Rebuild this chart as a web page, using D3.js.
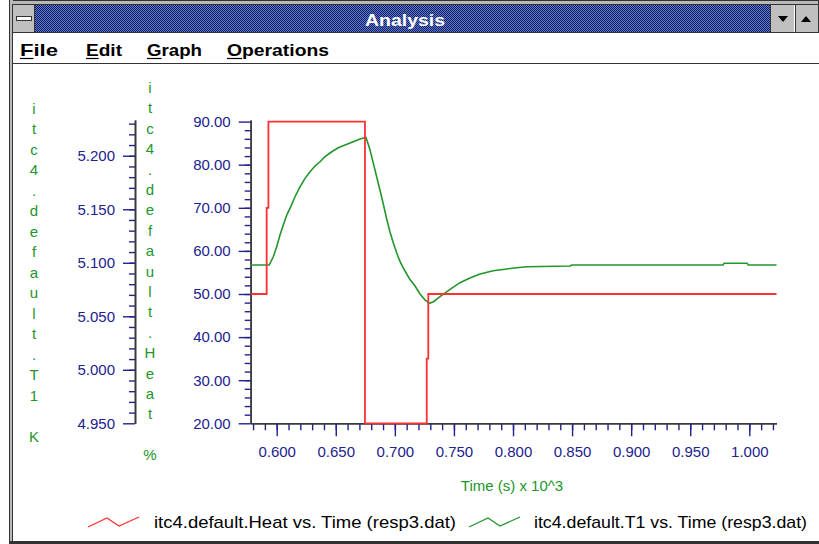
<!DOCTYPE html>
<html>
<head>
<meta charset="utf-8">
<script src="https://cdn.jsdelivr.net/npm/d3@7"></script>
<style>
  body { margin: 0; background: #fff; }
  svg { display: block; font-family: Arial, "Liberation Sans", sans-serif; }
</style>
</head>
<body>
<svg id="chart" width="819" height="544"></svg>
<script>
// ---- data -------------------------------------------------------------
// Heater output (%) as a stepped command, time in units of 10^3 s
const heatTime  = [0.578, 0.5915, 0.5930, 0.6747, 0.7270, 0.7283, 1.0230];
const heatValue = [50,    70,     90,     20,     35,     50,     50];

// Sensor T1 (K) response
const t1Time = [0.5780, 0.5937, 0.5971, 0.6000, 0.6028, 0.6056, 0.6085, 0.6119,
                0.6155, 0.6197, 0.6240, 0.6282, 0.6324, 0.6367, 0.6409, 0.6466,
                0.6521, 0.6578, 0.6648, 0.6705, 0.6756, 0.6790, 0.6818, 0.6846,
                0.6874, 0.6902, 0.6931, 0.6959, 0.6987, 0.7016, 0.7044, 0.7086,
                0.7128, 0.7171, 0.7213, 0.7255, 0.7293, 0.7326, 0.7382, 0.7467,
                0.7551, 0.7636, 0.7721, 0.7833, 0.7947, 0.8031, 0.8116, 0.8483,
                0.8497, 0.9778, 0.9786, 0.9981, 0.9992, 1.0230];
const t1Value = [5.0979, 5.0979, 5.1056, 5.1150, 5.1259, 5.1353, 5.1446, 5.1524,
                 5.1617, 5.1710, 5.1789, 5.1851, 5.1904, 5.1944, 5.1991, 5.2037,
                 5.2075, 5.2100, 5.2131, 5.2156, 5.2170, 5.2053, 5.1929, 5.1804,
                 5.1680, 5.1549, 5.1409, 5.1287, 5.1184, 5.1091, 5.1010, 5.0923,
                 5.0843, 5.0783, 5.0708, 5.0652, 5.0621, 5.0636, 5.0683, 5.0752,
                 5.0814, 5.0857, 5.0895, 5.0926, 5.0942, 5.0954, 5.0963, 5.0970,
                 5.0979, 5.0979, 5.0995, 5.0995, 5.0979, 5.0979];

const xTicks    = [0.600, 0.650, 0.700, 0.750, 0.800, 0.850, 0.900, 0.950, 1.000];
const heatTicks = [20, 30, 40, 50, 60, 70, 80, 90];
const t1Ticks   = [4.950, 5.000, 5.050, 5.100, 5.150, 5.200];

const windowTitle   = "Analysis";
const menuItems     = ["File", "Edit", "Graph", "Operations"];
const t1AxisTitle   = "itc4.default.T1";
const t1Unit        = "K";
const heatAxisTitle = "itc4.default.Heat";
const heatUnit      = "%";
const xAxisTitle    = "Time (s) x 10^3";
const legendLabels  = ["itc4.default.Heat vs. Time (resp3.dat)",
                       "itc4.default.T1 vs. Time (resp3.dat)"];

// ---- styles -----------------------------------------------------------
const NAVY = "#22228f", GREEN = "#22962a", RED = "#ff3030", AXIS = "#3a3a3a";

const svg = d3.select("#chart");

// ---- window chrome ----------------------------------------------------
const defs = svg.append("defs");
const pat = defs.append("pattern").attr("id", "dither")
  .attr("width", 2).attr("height", 2).attr("patternUnits", "userSpaceOnUse");
pat.append("rect").attr("width", 2).attr("height", 2).attr("fill", "#0a1f80");
pat.append("rect").attr("x", 1).attr("width", 1).attr("height", 1).attr("fill", "#6678b0");
pat.append("rect").attr("y", 1).attr("width", 1).attr("height", 1).attr("fill", "#6678b0");

// frame
svg.append("rect").attr("x", 9).attr("y", 0).attr("width", 810).attr("height", 5).attr("fill", "#b8b8b8");
svg.append("line").attr("x1", 9).attr("x2", 819).attr("y1", 0.5).attr("y2", 0.5).attr("stroke", "#333");
svg.append("line").attr("x1", 9).attr("x2", 819).attr("y1", 4.5).attr("y2", 4.5).attr("stroke", "#333");
svg.append("rect").attr("x", 9).attr("y", 0).attr("width", 4).attr("height", 544).attr("fill", "#b8b8b8");
svg.append("line").attr("x1", 9.5).attr("x2", 9.5).attr("y1", 0).attr("y2", 544).attr("stroke", "#333");
svg.append("line").attr("x1", 12.5).attr("x2", 12.5).attr("y1", 4).attr("y2", 541).attr("stroke", "#333");

// title bar
svg.append("rect").attr("x", 35).attr("y", 5).attr("width", 735).attr("height", 27).attr("fill", "url(#dither)");
svg.append("text").attr("x", 365).attr("y", 25.5)
  .attr("fill", "#fff").attr("font-weight", "bold").attr("font-size", 17)
  .attr("textLength", 80).attr("lengthAdjust", "spacingAndGlyphs").text(windowTitle);

// system menu box
svg.append("rect").attr("x", 13).attr("y", 5).attr("width", 22).attr("height", 27).attr("fill", "#c0c0c0");
svg.append("line").attr("x1", 34.5).attr("x2", 34.5).attr("y1", 5).attr("y2", 32).attr("stroke", "#333");
svg.append("rect").attr("x", 16.5).attr("y", 16.5).attr("width", 15).attr("height", 4)
  .attr("fill", "#fff").attr("stroke", "#333");

// min / max buttons
[[770, "M 778 16 L 788 16 L 783 22 Z"], [795, "M 801 22 L 811 22 L 806 16 Z"]].forEach(([bx, tri]) => {
  svg.append("rect").attr("x", bx).attr("y", 5).attr("width", 24).attr("height", 27).attr("fill", "#c0c0c0");
  svg.append("line").attr("x1", bx + 0.5).attr("x2", bx + 0.5).attr("y1", 5).attr("y2", 32).attr("stroke", "#333");
  svg.append("path").attr("d", tri).attr("fill", "#000");
});
svg.append("line").attr("x1", 818.5).attr("x2", 818.5).attr("y1", 0).attr("y2", 33).attr("stroke", "#333");

svg.append("line").attr("x1", 13).attr("x2", 819).attr("y1", 32.5).attr("y2", 32.5).attr("stroke", "#333");
svg.append("line").attr("x1", 13).attr("x2", 819).attr("y1", 63.5).attr("y2", 63.5).attr("stroke", "#333");
svg.append("rect").attr("x", 9).attr("y", 541).attr("width", 810).attr("height", 3).attr("fill", "#333");

// menu bar
const menuX = [20, 86, 147, 227];
const menuW = [38, 36, 55, 102];
menuItems.forEach((m, i) => {
  const t = svg.append("text").attr("x", menuX[i]).attr("y", 56)
    .attr("font-weight", "bold").attr("font-size", 17).attr("fill", "#000")
    .attr("textLength", menuW[i]).attr("lengthAdjust", "spacingAndGlyphs")
    .text(m);
  // underline the access-key letter
  const first = t.node().getExtentOfChar(0);
  svg.append("line").attr("x1", first.x).attr("x2", first.x + first.width)
    .attr("y1", 58.5).attr("y2", 58.5).attr("stroke", "#000").attr("stroke-width", 1.2);
});

// ---- scales -----------------------------------------------------------
const x     = d3.scaleLinear().domain([0.578, 1.023]).range([250.7, 776.5]);
const yHeat = d3.scaleLinear().domain([20, 90.37]).range([423.3, 120]);
const yT1   = d3.scaleLinear().domain([4.95, 5.2334]).range([423.3, 120]);

const minor = (a, b, s) => d3.range(Math.round(a / s), Math.round(b / s) + 1).map(k => +(k * s).toFixed(6));

function styleAxis(g) {
  g.select(".domain").attr("stroke", AXIS).attr("stroke-width", 1.6);
  g.selectAll(".tick line").attr("stroke", NAVY).attr("stroke-width", 1.4);
  g.selectAll(".tick text").attr("fill", NAVY).attr("font-size", 15)
    .attr("font-family", "Arial, 'Liberation Sans', sans-serif");
}

// T1 axis (far left)
svg.append("g").attr("transform", "translate(135,0)")
  .call(d3.axisLeft(yT1).tickValues(minor(4.96, 5.23, 0.01)).tickSize(6).tickSizeOuter(0).tickFormat(""))
  .call(styleAxis);
svg.append("g").attr("transform", "translate(135,0)")
  .call(d3.axisLeft(yT1).tickValues(t1Ticks).tickSize(12).tickPadding(8).tickSizeOuter(0).tickFormat(d3.format(".3f")))
  .call(styleAxis);

// Heat axis
svg.append("g").attr("transform", "translate(250.7,0)")
  .call(d3.axisLeft(yHeat).tickValues(minor(22, 88, 2)).tickSize(6).tickSizeOuter(0).tickFormat(""))
  .call(styleAxis);
svg.append("g").attr("transform", "translate(250.7,0)")
  .call(d3.axisLeft(yHeat).tickValues(heatTicks).tickSize(12).tickPadding(8).tickSizeOuter(0).tickFormat(d3.format(".2f")))
  .call(styleAxis);

// Time axis
svg.append("g").attr("transform", "translate(0,423.3)")
  .call(d3.axisBottom(x).tickValues(minor(0.58, 1.02, 0.01)).tickSize(7).tickSizeOuter(0).tickFormat(""))
  .call(styleAxis);
svg.append("g").attr("transform", "translate(0,423.3)")
  .call(d3.axisBottom(x).tickValues(xTicks).tickSize(13).tickPadding(10).tickSizeOuter(0).tickFormat(d3.format(".3f")))
  .call(styleAxis);

// axis titles: characters stacked vertically
function stacked(str, cx, y0, step) {
  [...str].forEach((ch, k) => {
    svg.append("text").attr("x", cx).attr("y", y0 + step * k).attr("text-anchor", "middle")
      .attr("fill", GREEN).attr("font-size", 15).text(ch);
  });
}
stacked(t1AxisTitle, 34, 113.5, 20.5);
svg.append("text").attr("x", 34).attr("y", 113.5 + 20.5 * 16).attr("text-anchor", "middle")
  .attr("fill", GREEN).attr("font-size", 15).text(t1Unit);
stacked(heatAxisTitle, 150, 93, 20.4);
svg.append("text").attr("x", 150).attr("y", 93 + 20.4 * 18).attr("text-anchor", "middle")
  .attr("fill", GREEN).attr("font-size", 15).text(heatUnit);

svg.append("text").attr("x", 512).attr("y", 491).attr("text-anchor", "middle")
  .attr("fill", GREEN).attr("font-size", 15).text(xAxisTitle);

// ---- series -----------------------------------------------------------
const heatData = heatTime.map((t, i) => [t, heatValue[i]]);
const t1Data   = t1Time.map((t, i) => [t, t1Value[i]]);

svg.append("path").datum(t1Data)
  .attr("d", d3.line().x(d => x(d[0])).y(d => yT1(d[1])))
  .attr("fill", "none").attr("stroke", GREEN).attr("stroke-width", 1.6);

svg.append("path").datum(heatData)
  .attr("d", d3.line().curve(d3.curveStepAfter).x(d => x(d[0])).y(d => yHeat(d[1])))
  .attr("fill", "none").attr("stroke", RED).attr("stroke-width", 1.8);

// ---- legend -----------------------------------------------------------
const zig = [[0, 9], [19, 0], [31, 8], [51, -1]];
[[88, RED, 154, 302], [469, GREEN, 534, 273]].forEach(([lx, col, tx, tw], i) => {
  svg.append("path").attr("d", d3.line()(zig.map(p => [lx + p[0], 518 + p[1]])))
    .attr("fill", "none").attr("stroke", col).attr("stroke-width", 1.3);
  svg.append("text").attr("x", tx).attr("y", 528).attr("fill", "#000")
    .attr("font-size", 17).attr("textLength", tw).attr("lengthAdjust", "spacingAndGlyphs")
    .text(legendLabels[i]);
});
</script>
</body>
</html>
